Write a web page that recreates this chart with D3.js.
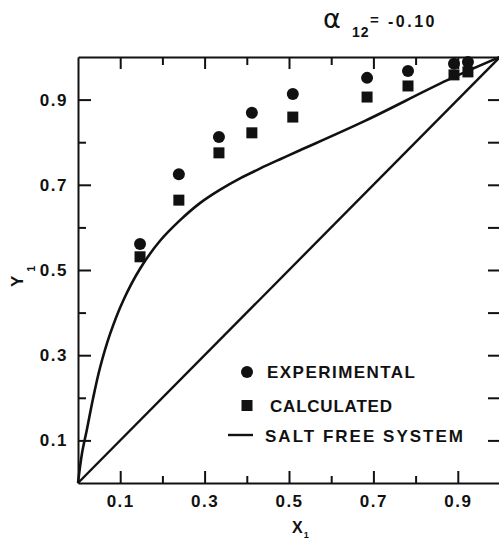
<!DOCTYPE html>
<html>
<head>
<meta charset="utf-8">
<script src="https://cdn.jsdelivr.net/npm/d3@7"></script>
<style>
  body { margin: 0; background: #fff; }
  svg { display: block; font-family: "Liberation Sans", Arial, sans-serif; }
  .axis text { font-size: 17px; font-weight: bold; letter-spacing: 1.5px; fill: #111; }
  .axis path, .axis line { stroke: #111; stroke-width: 2; }
</style>
</head>
<body>
<div id="chart"></div>
<script>
// x1 / y1 data (alpha12 = -0.10)
let xPoints = [0.147, 0.239, 0.334, 0.412, 0.509, 0.685, 0.782, 0.891, 0.924];
let yExperimental = [0.561, 0.725, 0.812, 0.869, 0.913, 0.951, 0.967, 0.984, 0.988];
let yCalculated = [0.531, 0.664, 0.775, 0.822, 0.859, 0.906, 0.932, 0.958, 0.965];

// salt free system curve
let saltFreeX = [0, 0.0095, 0.021, 0.036, 0.052, 0.076, 0.107, 0.147, 0.194, 0.242, 0.289, 0.336, 0.384, 0.431, 0.479, 0.526, 0.68, 0.874, 1];
let saltFreeY = [0, 0.070, 0.125, 0.200, 0.270, 0.350, 0.428, 0.503, 0.568, 0.617, 0.657, 0.688, 0.715, 0.738, 0.760, 0.781, 0.850, 0.945, 1];

// diagonal x = y
let diagonal = [0, 1];

let tickValues = [0.1, 0.2, 0.3, 0.4, 0.5, 0.6, 0.7, 0.8, 0.9];
let labelledTicks = [0.1, 0.3, 0.5, 0.7, 0.9];

let width = 499, height = 539;
let svg = d3.select("#chart").append("svg")
    .attr("width", width)
    .attr("height", height);

let x = d3.scaleLinear().domain([0, 1]).range([78, 500]);
let y = d3.scaleLinear().domain([0, 1]).range([483, 57]);

let fmt = d3.format(".1f");
let isLabelled = d => labelledTicks.some(t => Math.abs(t - d) < 1e-9);

// bottom axis (ticks point inward)
let bottomAxis = svg.append("g").attr("class", "axis")
    .attr("transform", "translate(0," + y(0) + ")")
    .call(d3.axisBottom(x).tickValues(tickValues).tickSizeInner(-12).tickSizeOuter(0)
        .tickPadding(12).tickFormat(d => isLabelled(d) ? fmt(d) : ""));
bottomAxis.selectAll(".tick line").attr("y2", d => isLabelled(d) ? -12 : -7);
bottomAxis.selectAll(".tick text").attr("y", 12);

// top axis
let topAxis = svg.append("g").attr("class", "axis")
    .attr("transform", "translate(0," + y(1) + ")")
    .call(d3.axisTop(x).tickValues(tickValues).tickSizeInner(-12).tickSizeOuter(0).tickFormat(""));
topAxis.selectAll(".tick line").attr("y2", d => isLabelled(d) ? 12 : 8);

// left axis
let leftAxis = svg.append("g").attr("class", "axis")
    .attr("transform", "translate(" + x(0) + ",0)")
    .call(d3.axisLeft(y).tickValues(tickValues).tickSizeInner(-13).tickSizeOuter(0)
        .tickPadding(10).tickFormat(d => isLabelled(d) ? fmt(d) : ""));
leftAxis.selectAll(".tick line").attr("x2", d => isLabelled(d) ? 13 : 8);
leftAxis.selectAll(".tick text").attr("x", -10);

// right axis (line falls off the edge, ticks visible)
svg.append("g").attr("class", "axis")
    .attr("transform", "translate(" + x(1) + ",0)")
    .call(d3.axisRight(y).tickValues(tickValues).tickSizeInner(-12).tickSizeOuter(0).tickFormat(""));

// lines
svg.append("path")
    .datum(saltFreeX.map((v, i) => [v, saltFreeY[i]]))
    .attr("d", d3.line().x(d => x(d[0])).y(d => y(d[1])).curve(d3.curveCatmullRom.alpha(0.5)))
    .attr("fill", "none").attr("stroke", "#111").attr("stroke-width", 2.6);
svg.append("path")
    .datum(diagonal.map(v => [v, v]))
    .attr("d", d3.line().x(d => x(d[0])).y(d => y(d[1])))
    .attr("fill", "none").attr("stroke", "#111").attr("stroke-width", 2.4);

// calculated squares
svg.selectAll(".calc").data(xPoints).enter().append("rect")
    .attr("class", "calc")
    .attr("x", d => x(d) - 5.5)
    .attr("y", (d, i) => y(yCalculated[i]) - 5.5)
    .attr("width", 11).attr("height", 11)
    .attr("fill", "#111");

// experimental circles
svg.selectAll(".exp").data(xPoints).enter().append("circle")
    .attr("class", "exp")
    .attr("cx", d => x(d))
    .attr("cy", (d, i) => y(yExperimental[i]))
    .attr("r", 6)
    .attr("fill", "#111");

// legend
let legend = svg.append("g")
    .style("font-size", "17px").style("font-weight", "bold").style("fill", "#111");
legend.append("circle").attr("cx", 247).attr("cy", 372).attr("r", 6).attr("fill", "#111");
legend.append("text").attr("x", 267).attr("y", 378)
    .attr("textLength", 148).attr("lengthAdjust", "spacing").text("EXPERIMENTAL");
legend.append("rect").attr("x", 241.5).attr("y", 400).attr("width", 11).attr("height", 11).attr("fill", "#111");
legend.append("text").attr("x", 270).attr("y", 412)
    .attr("textLength", 122).attr("lengthAdjust", "spacing").text("CALCULATED");
legend.append("line").attr("x1", 228).attr("x2", 253).attr("y1", 435).attr("y2", 435)
    .attr("stroke", "#111").attr("stroke-width", 2.4);
legend.append("text").attr("x", 265).attr("y", 442)
    .attr("textLength", 198).attr("lengthAdjust", "spacing").text("SALT FREE SYSTEM");

// axis titles
let xTitle = svg.append("text").attr("x", 292).attr("y", 533)
    .style("font-size", "16px").style("font-weight", "bold").style("fill", "#111");
xTitle.append("tspan").text("X");
xTitle.append("tspan").attr("dx", 1).attr("dy", 5).style("font-size", "9px").text("1");

let yTitle = svg.append("text").attr("transform", "translate(23,287) rotate(-90)")
    .style("font-size", "17px").style("font-weight", "bold").style("fill", "#111");
yTitle.append("tspan").text("Y");
yTitle.append("tspan").attr("dx", 4).attr("dy", 12).style("font-size", "11px").text("1");

// parameter label
let paramLabel = svg.append("g").style("fill", "#111");
paramLabel.append("text").attr("x", 323).attr("y", 28)
    .style("font-family", "DejaVu Sans").style("font-size", "27px").text("α");
paramLabel.append("text").attr("x", 352).attr("y", 37)
    .style("font-size", "14px").style("font-weight", "bold").style("letter-spacing", "1px").text("12");
paramLabel.append("text").attr("x", 370).attr("y", 25)
    .style("font-size", "15px").style("font-weight", "bold").text("=");
paramLabel.append("text").attr("x", 388).attr("y", 27)
    .style("font-size", "16px").style("font-weight", "bold").style("letter-spacing", "2.5px").text("-0.10");
</script>
</body>
</html>
